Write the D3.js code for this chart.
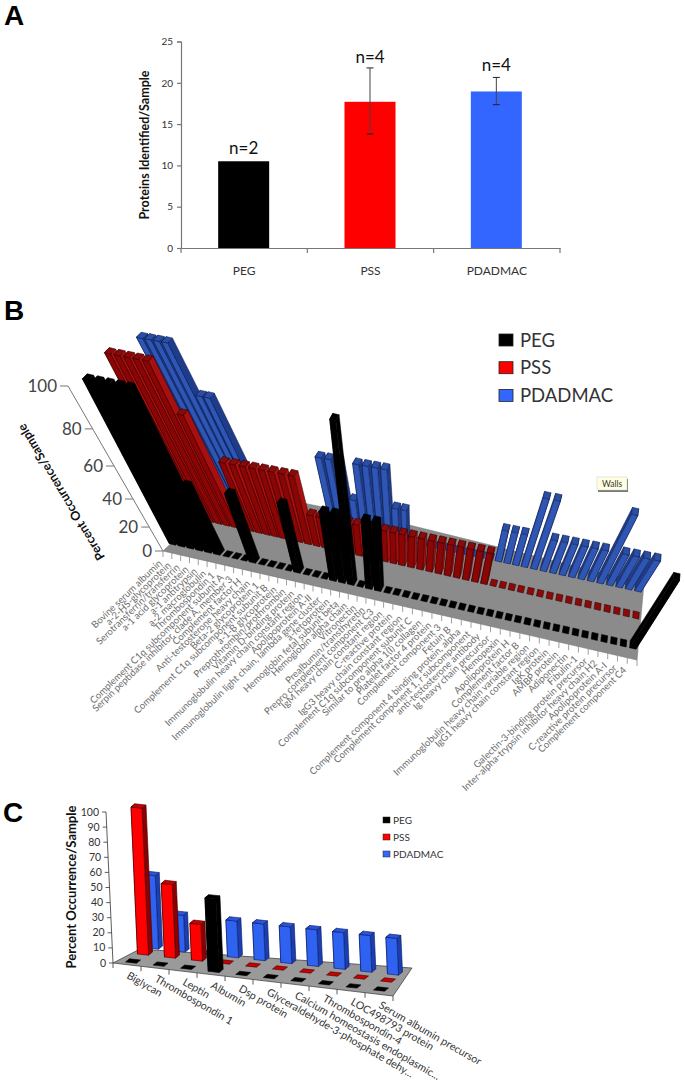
<!DOCTYPE html>
<html>
<head>
<meta charset="utf-8">
<script src="https://cdn.jsdelivr.net/npm/d3@7"></script>
<style>
body { margin: 0; background: white; }
text { font-family: Lato, "Open Sans", sans-serif; }
</style>
</head>
<body>
<div id="canvas"></div>
<script>
// ---- panel A data
var groups = ["PEG", "PSS", "PDADMAC"];
var proteinsPerSample = [10.5, 17.7, 18.95];
var errLow = [null, 13.8, 17.35];
var errHigh = [null, 21.8, 20.65];
var sampleCounts = ["n=2", "n=4", "n=4"];
var countAt = [11.4, 22.4, 21.4];
var ticksA = [0, 5, 10, 15, 20, 25];

// ---- panel B data
var proteinsB = ["Bovine serum albumin", "a-2-HS-glycoprotein", "Serotransferrin/transferrin", "a-1 acid glycoprotein",
    "a-1 antitrypsin", "a-2 macroglobulin", "Thrombospondin 1", "Complement C1q subcomponent subunit A",
    "Serpin peptidase inhibitor, clade A, member 3", "Complement factor H", "Anti-testosterone heavy chain",
    "Beta-2 glycoprotein 1", "Complement C1q subcomponent subunit B", "a-1-B glycoprotein", "Preprothrombin/prothrombin",
    "Vitamin D-binding protein", "Immunoglobulin heavy chain constant region", "Apolipoprotein A-II",
    "Immunoglobulin light chain, lambda gene cluster", "a-fetoprotein", "Hemoglobin fetal subunit beta",
    "Hemoglobin alpha chain", "Vitronectin", "Prealbumin/transthyretin", "Prepro complement component C3",
    "IgM heavy chain constant region", "C-reactive protein", "IgG3 heavy chain constant region",
    "Complement C1q subcomponent subunit C", "Similar to pro alpha 1(I) collagen", "Platelet factor 4 protein",
    "Complement component 3", "Fetuin B", "Complement component 4 binding protein, alpha",
    "Complement component 1, r subcomponent", "anti-testosterone antibody", "Ig heavy chain precursor", "Hemopexin",
    "Apolipoprotein H", "Complement factor B", "Immunoglobulin heavy chain variable region",
    "IgG1 heavy chain constant region", "IgK protein", "AMBP protein", "Adiponectin", "Fibulin-1",
    "Galectin-3-binding protein precursor", "Inter-alpha-trypsin inhibitor heavy chain H2", "Apolipoprotein A-I",
    "C-reactive protein precursor", "Complement component C4"];
var pegB = [100,100,100,100,100,50,0,0,0,50, 0,0,0,0,50,0,0,0,50,50, 100,0,50,50,0,0,0,0,0,0,
    0,0,0,0,0,0,0,0,0,0, 0,0,0,0,0,0,0,0,0,0, 50];
var pssB = [100,100,100,100,100,75,25,50,50,50, 50,50,50,50,50,25,25,25,25,25, 25,25,25,25,25,25,25,25,25,25,
    25,25,25,25,25,0,0,0,0,0, 0,0,0,0,0,0,0,0,0,0, 0];
var pdadmacB = [100,100,100,100,75,75,0,0,0,0, 0,0,0,0,0,50,50,50,25,50, 50,50,50,25,25,0,0,0,0,0,
    0,0,0,0,0,25,25,25,50,50, 25,25,25,25,25,25,50,25,25,25, 25];
var ticksB = [0, 20, 40, 60, 80, 100];

// ---- panel C data
var proteinsC = ["Biglycan", "Thrombospondin 1", "Leptin", "Albumin", "Dsp protein",
    "Glyceraldehyde-3-phosphate dehy...", "Calcium homeostasis endoplasmic...", "Thrombospondin-4",
    "LOC498793 protein", "Serum albumin precursor"];
var pegC = [0, 0, 0, 50, 0, 0, 0, 0, 0, 0];
var pssC = [100, 50, 25, 0, 0, 0, 0, 0, 0, 0];
var pdadmacC = [50, 25, 0, 25, 25, 25, 25, 25, 25, 25];
var ticksC = [0, 10, 20, 30, 40, 50, 60, 70, 80, 90, 100];

var width = 685, height = 1085;
var svg = d3.select("#canvas").append("svg").attr("width", width).attr("height", height)
    .style("display", "block");

var line = d3.line();

function panelLetter(s, x, y) {
    svg.append("text").attr("x", x).attr("y", y).text(s)
        .style("font-family", "'Liberation Sans'").style("font-weight", "bold")
        .style("font-size", "28px").style("fill", "#000");
}
panelLetter("A", 4, 25);
panelLetter("B", 4, 320);
panelLetter("C", 3, 822);

// ---------------- A: plain bars
var xA = d3.scaleBand().domain(groups).range([181, 560]);
var yA = d3.scaleLinear().domain([0, 25]).range([248, 41.5]);
var colorA = d3.scaleOrdinal().domain(groups).range(["#000000", "#ff0000", "#3366ff"]);
var gA = svg.append("g");

gA.selectAll("rect.barA").data(groups).enter().append("rect")
    .attr("class", "barA")
    .attr("x", function(d) { return xA(d) + xA.bandwidth() / 2 - 26; })
    .attr("width", 51)
    .attr("y", function(d, i) { return yA(proteinsPerSample[i]); })
    .attr("height", function(d, i) { return yA(0) - yA(proteinsPerSample[i]); })
    .attr("fill", function(d) { return colorA(d); });

// axes are drawn by d3 and then greyed
var axisLeftA = gA.append("g").attr("transform", "translate(181,0)")
    .call(d3.axisLeft(yA).tickValues(ticksA).tickSize(4).tickPadding(4));
var axisBottomA = gA.append("g").attr("transform", "translate(0,248)")
    .call(d3.axisBottom(xA).tickSize(0).tickPadding(18));
axisLeftA.selectAll("text").style("font-size", "10px").style("font-family", "Lato").style("fill", "#333");
axisBottomA.selectAll("text").style("font-size", "12px").style("font-family", "Lato").style("fill", "#333");
gA.selectAll(".domain, .tick line").attr("stroke", "#777").attr("stroke-width", 1.2);
gA.selectAll("line.sepA").data(d3.range(4)).enter().append("line").attr("class", "sepA")
    .attr("x1", function(d) { return 181 + d * xA.step(); })
    .attr("x2", function(d) { return 181 + d * xA.step(); })
    .attr("y1", 248).attr("y2", 253).attr("stroke", "#777").attr("stroke-width", 1.2);

groups.forEach(function(g, i) {
    var cx = xA(g) + xA.bandwidth() / 2 - 0.5;
    if (errLow[i] !== null) {
        gA.append("line").attr("x1", cx).attr("x2", cx).attr("y1", yA(errLow[i])).attr("y2", yA(errHigh[i]))
            .attr("stroke", "#444").attr("stroke-width", 1);
        [errLow[i], errHigh[i]].forEach(function(v) {
            gA.append("line").attr("x1", cx - 3.5).attr("x2", cx + 3.5).attr("y1", yA(v)).attr("y2", yA(v))
                .attr("stroke", "#222").attr("stroke-width", 1);
        });
    }
    gA.append("text").attr("x", cx).attr("y", yA(countAt[i])).attr("text-anchor", "middle")
        .style("font-size", "17px").style("fill", "#111").text(sampleCounts[i]);
});
gA.append("text").attr("transform", "translate(149,145) rotate(-90)").attr("text-anchor", "middle")
    .style("font-size", "12.5px").style("font-weight", "bold").style("fill", "#111")
    .text("Proteins Identified/Sample");

// ---------------- shared prism helper: footprint corners + lift vector
function prism(g, d) {
    var lift = function(p) { return [p[0] + d.lift[0], p[1] + d.lift[1]]; };
    var fl = d.corners[0], fr = d.corners[1], br = d.corners[2], bl = d.corners[3];
    var sides = d.leftFirst ? [[bl, fl], [br, fr]] : [[br, fr], [bl, fl]];
    var sel = d3.select(g);
    if (d.lift[1] !== 0) {
        sides.forEach(function(s) {
            sel.append("path")
                .attr("d", line([s[0], s[1], lift(s[1]), lift(s[0])]) + "Z")
                .attr("fill", d.colors.side).attr("stroke", d.colors.edge).attr("stroke-width", d.sw);
        });
        sel.append("path").attr("d", line([fl, fr, lift(fr), lift(fl)]) + "Z")
            .attr("fill", d.colors.front).attr("stroke", d.colors.edge).attr("stroke-width", d.sw);
    }
    sel.append("path").attr("d", line([lift(fl), lift(fr), lift(br), lift(bl)]) + "Z")
        .attr("fill", d.colors.top).attr("stroke", d.colors.edge).attr("stroke-width", d.sw);
}

// ---------------- B: perspective bars
var gB = svg.append("g");
var floorB = [[163, 551], [637, 660], [644, 583], [405, 524], [230, 488]];
gB.append("path").attr("d", line(floorB) + "Z").attr("fill", "#8b8b8b").attr("stroke", "#777").attr("stroke-width", 0.6);

// value -> share of the axis length, the axis is foreshortened
var fracB = d3.scaleLinear().domain(ticksB).range([0, 0.145, 0.315, 0.515, 0.74, 1]);
var leanB = d3.scaleLinear().domain([0, 5, 9, 14, 20, 23, 35, 38, 46, 50])
    .range([-87, -80, -60, -41, -18, -7, 37, 53, 84, 105]);
var catDomain = [0, 12, 25, 38, 50];
var rowsB = [
    {name: "PDADMAC", values: pdadmacB, x: d3.scaleLinear().domain(catDomain).range([229, 312, 413, 525, 638]),
     y: d3.scaleLinear().domain([498, 638]).range([558, 588]),
     colors: {front: "#2f56b4", side: "#1f3c8a", top: "#2a4ea6", edge: "#0b1a48"}},
    {name: "PSS", values: pssB, x: d3.scaleLinear().domain(catDomain).range([197, 293, 403, 521, 636]),
     y: d3.scaleLinear().domain([490, 636]).range([582, 615]),
     colors: {front: "#8c0505", side: "#a81010", top: "#8a0a0a", edge: "#2a0000"}},
    {name: "PEG", values: pegB, x: d3.scaleLinear().domain(catDomain).range([175, 281, 397, 518, 633]),
     y: d3.scaleLinear().domain([175, 633]).range([542, 645]),
     colors: {front: "#000", side: "#000", top: "#000", edge: "#000"}}
];
var depthX = d3.scaleLinear().domain([0, 50]).range([5, 0.5]);
var depthY = d3.scaleLinear().domain([0, 50]).range([-5, -7]);

function barsB(row) {
    var out = row.values.map(function(v, i) {
        var cx = row.x(i), cy = row.y(cx);
        var w = 3.1, sl = 0.225, dx = depthX(i) / 2, dy = depthY(i) / 2;
        return {
            i: i,
            corners: [[cx - w - dx, cy - w * sl - dy], [cx + w - dx, cy + w * sl - dy],
                      [cx + w + dx, cy + w * sl + dy], [cx - w + dx, cy - w * sl + dy]],
            lift: [leanB(i) * fracB(v), -165 * fracB(v)],
            colors: row.colors, sw: 0.5, leftFirst: i < 23
        };
    });
    // outer bars go first, the ones close to the middle overlap them
    return out.sort(function(a, b) { return d3.descending(Math.abs(a.i - 23), Math.abs(b.i - 23)); });
}
rowsB.forEach(function(row) {
    gB.append("g").selectAll("g").data(barsB(row)).enter().append("g").each(function(d) { prism(this, d); });
});

// front edge ticks and protein names
var tickX = d3.scaleLinear().domain([0, 25.5, 51]).range([163, 388, 637]);
var edgeY = d3.scaleLinear().domain([163, 637]).range([551, 660]);
gB.selectAll("line.tickB").data(d3.range(52)).enter().append("line").attr("class", "tickB")
    .attr("x1", function(d) { return tickX(d); }).attr("x2", function(d) { return tickX(d); })
    .attr("y1", function(d) { return edgeY(tickX(d)); }).attr("y2", function(d) { return edgeY(tickX(d)) + 6; })
    .attr("stroke", "#888").attr("stroke-width", 0.8);
gB.selectAll("text.catB").data(proteinsB).enter().append("text").attr("class", "catB")
    .attr("transform", function(d, i) {
        var x = tickX(i + 0.5);
        return "translate(" + (x - 5) + "," + (edgeY(x) + 12) + ") rotate(-44)";
    })
    .attr("text-anchor", "end").style("font-size", "9.6px").style("fill", "#6e6e6e")
    .text(function(d) { return d; });

// slanted value axis
gB.append("line").attr("x1", 163).attr("y1", 551).attr("x2", 163 - 95).attr("y2", 551 - 165)
    .attr("stroke", "#777").attr("stroke-width", 1);
ticksB.forEach(function(t) {
    var px = 163 - 95 * fracB(t), py = 551 - 165 * fracB(t);
    gB.append("line").attr("x1", px - 8).attr("x2", px).attr("y1", py).attr("y2", py)
        .attr("stroke", "#777").attr("stroke-width", 1);
    gB.append("text").attr("x", px - 11).attr("y", py + 6).attr("text-anchor", "end")
        .style("font-size", "17px").style("fill", "#444").text(t);
});
gB.append("text").attr("transform", "translate(65,490) rotate(239)").attr("text-anchor", "middle")
    .style("font-size", "12.5px").style("font-weight", "bold").style("fill", "#111")
    .text("Percent Occurrence/Sample");

// legend B
var legendColors = ["#000000", "#ff0000", "#3366ff"];
groups.forEach(function(g, i) {
    var ly = 340 + i * 27.7;
    gB.append("rect").attr("x", 499).attr("y", ly - 6).attr("width", 14).attr("height", 12)
        .attr("fill", legendColors[i]).attr("stroke", "#222").attr("stroke-width", 0.8);
    gB.append("text").attr("x", 520).attr("y", ly + 6.5).style("font-size", "18.5px").style("fill", "#333").text(g);
});

// the stray tooltip of the source program
gB.append("rect").attr("x", 598).attr("y", 479).attr("width", 30).attr("height", 13).attr("fill", "#777");
gB.append("rect").attr("x", 597).attr("y", 477).attr("width", 30).attr("height", 13).attr("fill", "#ffffe0")
    .attr("stroke", "#ccc").attr("stroke-width", 0.5);
gB.append("text").attr("x", 612).attr("y", 486.5).attr("text-anchor", "middle")
    .style("font-size", "8.5px").style("fill", "#333").text("Walls");

// ---------------- C: mild perspective bars
var gC = svg.append("g");
var floorC = [[113, 963], [393, 996], [412, 968], [140, 949]];
gC.append("path").attr("d", line(floorC) + "Z").attr("fill", "#9a9a9a").attr("stroke", "#333").attr("stroke-width", 0.7);

var yC = d3.scaleLinear().domain([0, 100]).range([0, 151]);
var barC = d3.scaleLinear().domain([0, 100]).range([0, 147]);
var catC = d3.scaleLinear().domain([0, 9]);
var rowsC = [
    {values: pdadmacC, x: catC.copy().range([155, 395]), y: catC.copy().range([947, 973]),
     colors: {front: "#2f62f0", side: "#1b3fb0", top: "#2a55d8", edge: "#0a1a60"}},
    {values: pssC, x: catC.copy().range([145, 388]), y: catC.copy().range([953, 980]),
     colors: {front: "#ff0000", side: "#8c0000", top: "#c80000", edge: "#400000"}},
    {values: pegC, x: catC.copy().range([133, 381]), y: catC.copy().range([961, 989]),
     colors: {front: "#000", side: "#000", top: "#000", edge: "#000"}}
];
rowsC.forEach(function(row) {
    var bars = row.values.map(function(v, i) {
        var cx = row.x(i), cy = row.y(i);
        var w = 5.5, sl = 0.11, dx = 2, dy = -1.6;
        return {
            corners: [[cx - w - dx, cy - w * sl - dy], [cx + w - dx, cy + w * sl - dy],
                      [cx + w + dx, cy + w * sl + dy], [cx - w + dx, cy - w * sl + dy]],
            lift: [-0.065 * v, -barC(v)],
            colors: row.colors, sw: 0.6, leftFirst: true
        };
    });
    gC.append("g").selectAll("g").data(bars).enter().append("g").each(function(d) { prism(this, d); });
});

var tickCx = d3.scaleLinear().domain([0, 10]).range([113, 393]);
var tickCy = d3.scaleLinear().domain([0, 10]).range([963, 996]);
gC.selectAll("line.tickC").data(d3.range(11)).enter().append("line").attr("class", "tickC")
    .attr("x1", function(d) { return tickCx(d); }).attr("x2", function(d) { return tickCx(d); })
    .attr("y1", function(d) { return tickCy(d); }).attr("y2", function(d) { return tickCy(d) + 5; })
    .attr("stroke", "#333").attr("stroke-width", 0.8);
gC.selectAll("text.catC").data(proteinsC).enter().append("text").attr("class", "catC")
    .attr("transform", function(d, i) {
        return "translate(" + (tickCx(i + 0.5) - 1) + "," + (tickCy(i + 0.5) + 13) + ") rotate(30)";
    })
    .style("font-size", "10.6px").style("fill", "#333").text(function(d) { return d; });

gC.append("line").attr("x1", 113).attr("y1", 963).attr("x2", 106).attr("y2", 812)
    .attr("stroke", "#333").attr("stroke-width", 0.8);
ticksC.forEach(function(t) {
    var px = 113 - 0.07 * t, py = 963 - yC(t);
    gC.append("line").attr("x1", px - 4).attr("x2", px).attr("y1", py).attr("y2", py)
        .attr("stroke", "#333").attr("stroke-width", 0.8);
    gC.append("text").attr("x", 101 - 0.07 * t + 5).attr("y", py + 3.5).attr("text-anchor", "end")
        .style("font-size", "10.5px").style("fill", "#333").text(t);
});
gC.append("text").attr("transform", "translate(76,887) rotate(-90)").attr("text-anchor", "middle")
    .style("font-size", "13px").style("font-weight", "bold").style("fill", "#111")
    .text("Percent Occurrence/Sample");

groups.forEach(function(g, i) {
    var ly = 820 + i * 17;
    gC.append("rect").attr("x", 383).attr("y", ly - 3).attr("width", 7).attr("height", 6)
        .attr("fill", legendColors[i]).attr("stroke", "#222").attr("stroke-width", 0.5);
    gC.append("text").attr("x", 393).attr("y", ly + 4).style("font-size", "10px").style("fill", "#333").text(g);
});
</script>
</body>
</html>
